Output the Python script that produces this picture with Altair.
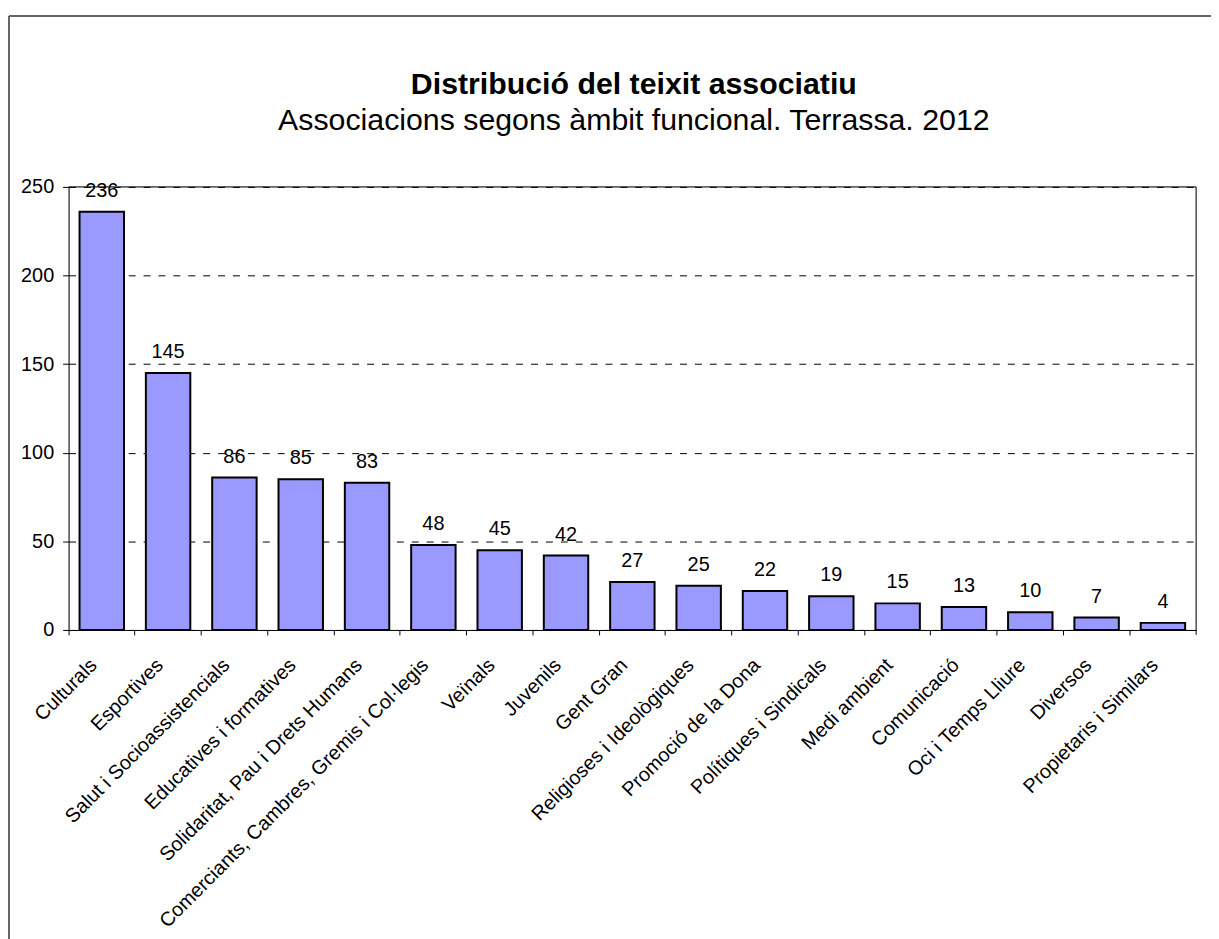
import altair as alt
import pandas as pd

categories = [
    "Culturals", "Esportives", "Salut i Socioassistencials", "Educatives i formatives",
    "Solidaritat, Pau i Drets Humans", "Comerciants, Cambres, Gremis i Col·legis",
    "Veïnals", "Juvenils", "Gent Gran", "Religioses i Ideològiques",
    "Promoció de la Dona", "Polítiques i Sindicals", "Medi ambient", "Comunicació",
    "Oci i Temps Lliure", "Diversos", "Propietaris i Similars",
]
values = [236, 145, 86, 85, 83, 48, 45, 42, 27, 25, 22, 19, 15, 13, 10, 7, 4]
y_ticks = [0, 50, 100, 150, 200, 250]
title_text = "Distribució del teixit associatiu"
subtitle_text = "Associacions segons àmbit funcional. Terrassa. 2012"

df = pd.DataFrame({"ambit": categories, "n": values})

W, H = 1135, 446
FONT = "Liberation Sans"

x_enc = alt.X(
    "ambit:N", sort=categories, title=None,
    scale=alt.Scale(paddingInner=0, paddingOuter=0),
    axis=alt.Axis(
        labelAngle=-45, labelAlign="right", labelBaseline="middle",
        labelPadding=27, labelOffset=-8, bandPosition=0,
        tickSize=5, tickColor="black", domainColor="black",
        labelFont=FONT, labelFontSize=20, labelColor="black", grid=False,
        labelLimit=0,
    ),
)
y_enc = alt.Y(
    "n:Q", title=None,
    scale=alt.Scale(domain=[0, 250], nice=False),
    axis=alt.Axis(
        values=y_ticks, tickSize=6, tickColor="black", domainColor="black",
        labelFont=FONT, labelFontSize=20, labelColor="black", labelPadding=9,
        grid=True, gridColor="black", gridDash=[7, 8], gridWidth=1,
    ),
)

bars = alt.Chart(df).mark_bar(
    color="#9999FF", stroke="black", strokeWidth=2,
    width=alt.RelativeBandSize(0.67),
).encode(x=x_enc, y=y_enc)

labels = alt.Chart(df).mark_text(
    baseline="alphabetic", align="center", dy=-15,
    font=FONT, fontSize=20, color="black",
).encode(x=alt.X("ambit:N", sort=categories), y="n:Q", text="n:Q")

deco = pd.DataFrame({"a": [0]})
end_tick = alt.Chart(deco).mark_rule(color="black", strokeWidth=1).encode(
    x=alt.value(W), y=alt.value(H), y2=alt.value(H + 5)
)
frame_top = alt.Chart(deco).mark_rule(color="black", strokeWidth=1).encode(
    x=alt.value(0), x2=alt.value(W), y=alt.value(0)
)
frame_right = alt.Chart(deco).mark_rule(color="black", strokeWidth=1).encode(
    x=alt.value(W), y=alt.value(0), y2=alt.value(H)
)
border_top = alt.Chart(deco).mark_rule(color="#333333", strokeWidth=1.5).encode(
    x=alt.value(-60), x2=alt.value(W + 20), y=alt.value(-172)
)
border_left = alt.Chart(deco).mark_rule(color="#333333", strokeWidth=1.5).encode(
    x=alt.value(-60), y=alt.value(-172), y2=alt.value(H + 320)
)
title_mark = alt.Chart(pd.DataFrame({"t": [title_text]})).mark_text(
    font=FONT, fontSize=30.5, fontWeight="bold", color="black",
    align="center", baseline="alphabetic",
).encode(x=alt.value(W / 2 + 1.5), y=alt.value(-94), text="t:N")
subtitle_mark = alt.Chart(pd.DataFrame({"t": [subtitle_text]})).mark_text(
    font=FONT, fontSize=30.5, color="black",
    align="center", baseline="alphabetic",
).encode(x=alt.value(W / 2 + 1.5), y=alt.value(-57), text="t:N")

chart = alt.layer(
    bars, labels, end_tick, frame_top, frame_right,
    border_top, border_left, title_mark, subtitle_mark,
).properties(
    width=W, height=H,
    autosize=alt.AutoSizeParams(type="none"),
    padding={"left": 61, "top": 177, "right": 15, "bottom": 308},
).configure_view(stroke=None).configure(background="white")

chart.save("out.html", embed_options={"renderer": "svg", "actions": False})
